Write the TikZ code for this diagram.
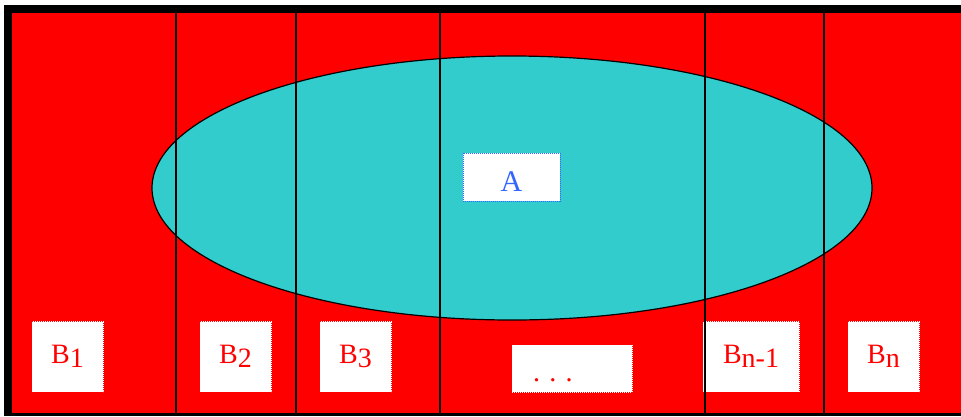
\documentclass[tikz,border=0pt]{standalone}
\usepackage{fontspec}
\setmainfont{Liberation Serif}
\usetikzlibrary{shapes.geometric}

\definecolor{setred}{HTML}{FF0000}
\definecolor{setcyan}{HTML}{33CCCC}
\definecolor{setblue}{HTML}{3366FF}
\newcommand{\lowidx}[1]{\raisebox{-4.5pt}{#1}}

\begin{document}
\begin{tikzpicture}[
    x=1pt, y=-1pt,
    labbox/.style={fill=white, draw=white, line width=1pt, dash pattern=on 1pt off 1pt, inner sep=0pt, text=setred, font=\fontsize{28}{32}\selectfont, minimum height=70pt},
    sep/.style={draw=black, line width=1.6pt}
]
\useasboundingbox (0,0) rectangle (961,416);
% frame and background
\fill[black] (4,5) rectangle (961,416);
\fill[setred] (12,13) rectangle (961,413);

% the set A
\node[ellipse, draw=black, line width=1.2pt, fill=setcyan, inner sep=0pt, minimum width=720pt, minimum height=264pt] (setA) at (512,188) {};
\node[labbox, draw=setblue, text=setblue, font=\fontsize{30}{34}\selectfont, minimum width=97pt, minimum height=0pt, text height=38pt, text depth=10pt] (labA) at (511.5,177) {A};

% the parts B_i
\node[labbox, minimum width=71pt] (b1) at (67.5,356.5) {B\lowidx{1}};
\node[labbox, minimum width=71pt] (b2) at (235.5,356.5) {B\lowidx{2}};
\node[labbox, minimum width=71pt] (b3) at (355.5,356.5) {B\lowidx{3}};
\node[labbox, minimum height=0pt, text width=78pt, inner xsep=21pt, inner ysep=3pt, text height=33pt, text depth=8pt, align=left] (dots) at (572,368.5) {.\,\,.\,\,.};
\node[labbox, minimum width=96pt] (bn1) at (751,356.5) {B\lowidx{n-1}};
\node[labbox, minimum width=71pt] (bn) at (883.5,356.5) {B\lowidx{n}};

% partition lines
\draw[sep] (176,13) -- (176,413);
\draw[sep] (296,13) -- (296,413);
\draw[sep] (440,13) -- (440,413);
\draw[sep] (705,13) -- (705,413);
\draw[sep] (824,13) -- (824,413);
\end{tikzpicture}
\end{document}
